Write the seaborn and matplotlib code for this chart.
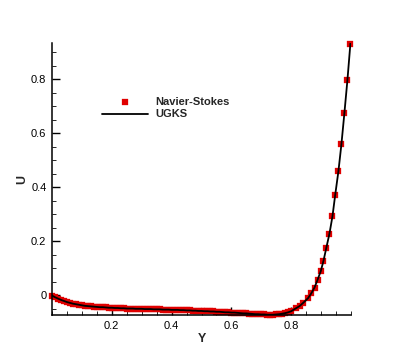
import matplotlib
matplotlib.use("Agg")
import matplotlib.pyplot as plt
import seaborn as sns
import pandas as pd
from matplotlib.ticker import MultipleLocator

# Navier-Stokes solution
ns_y = [0.00, 0.01, 0.02, 0.03, 0.04, 0.05, 0.06, 0.07, 0.08, 0.09,
        0.10, 0.11, 0.12, 0.13, 0.14, 0.15, 0.16, 0.17, 0.18, 0.19,
        0.20, 0.21, 0.22, 0.23, 0.24, 0.25, 0.26, 0.27, 0.28, 0.29,
        0.30, 0.31, 0.32, 0.33, 0.34, 0.35, 0.36, 0.37, 0.38, 0.39,
        0.40, 0.41, 0.42, 0.43, 0.44, 0.45, 0.46, 0.47, 0.48, 0.49,
        0.50, 0.51, 0.52, 0.53, 0.54, 0.55, 0.56, 0.57, 0.58, 0.59,
        0.60, 0.61, 0.62, 0.63, 0.64, 0.65, 0.66, 0.67, 0.68, 0.69,
        0.70, 0.71, 0.72, 0.73, 0.74, 0.75, 0.76, 0.77, 0.78, 0.79,
        0.80, 0.816, 0.828, 0.841, 0.856, 0.867, 0.878, 0.888, 0.899,
        0.908, 0.917, 0.928, 0.938, 0.947, 0.958, 0.968, 0.978, 0.988, 0.998]
ns_u = [-0.002, -0.008, -0.013, -0.018, -0.022, -0.026, -0.029, -0.032, -0.034, -0.036,
        -0.038, -0.040, -0.041, -0.042, -0.043, -0.044, -0.045, -0.045, -0.046, -0.047,
        -0.047, -0.048, -0.048, -0.049, -0.049, -0.050, -0.050, -0.050, -0.051, -0.051,
        -0.051, -0.052, -0.052, -0.052, -0.053, -0.053, -0.053, -0.054, -0.054, -0.054,
        -0.055, -0.055, -0.055, -0.056, -0.056, -0.057, -0.057, -0.058, -0.058, -0.059,
        -0.059, -0.060, -0.060, -0.061, -0.061, -0.062, -0.062, -0.063, -0.064, -0.064,
        -0.065, -0.065, -0.066, -0.067, -0.068, -0.068, -0.069, -0.070, -0.071, -0.071,
        -0.072, -0.072, -0.073, -0.073, -0.073, -0.072, -0.071, -0.069, -0.067, -0.064,
        -0.060, -0.049, -0.041, -0.028, -0.012, 0.006, 0.028, 0.056, 0.089,
        0.127, 0.173, 0.228, 0.292, 0.370, 0.460, 0.560, 0.676, 0.797, 0.933]

# UGKS solution
ugks_y = list(ns_y)
ugks_u = list(ns_u)

ns = pd.DataFrame({"Y": ns_y, "U": ns_u})
ug = pd.DataFrame({"Y": ugks_y, "U": ugks_u})

sns.set_style("white")
plt.rcParams["font.family"] = ["Liberation Sans", "DejaVu Sans"]

fig = plt.figure(figsize=(3.99, 3.55), dpi=100)
ax = fig.add_axes([52/399, 1 - 315/355, (351 - 52)/399, (315 - 43)/355])

sns.scatterplot(data=ns, x="Y", y="U", marker="s", s=22, color="#e00000",
                edgecolor="#e00000", linewidth=0.2, ax=ax, clip_on=False,
                label="Navier-Stokes", zorder=2)
sns.lineplot(data=ug, x="Y", y="U", color="black", linewidth=1.3, ax=ax,
             label="UGKS", sort=False, zorder=3)

ax.set_xlim(0, 1.0)
ax.set_ylim(-0.074, 0.935)

ax.xaxis.set_minor_locator(MultipleLocator(0.05))
ax.yaxis.set_minor_locator(MultipleLocator(0.05))
ax.set_xticks([0.2, 0.4, 0.6, 0.8])
ax.set_yticks([0, 0.2, 0.4, 0.6, 0.8])
ax.set_xticklabels(["0.2", "0.4", "0.6", "0.8"])
ax.set_yticklabels(["0", "0.2", "0.4", "0.6", "0.8"])

ax.tick_params(axis="both", which="major", direction="in", length=6, width=1,
               labelsize=8, pad=4, bottom=True, left=True, colors="black")
ax.tick_params(axis="both", which="minor", direction="in", length=3, width=0.7,
               bottom=True, left=True)

for side in ["top", "right"]:
    ax.spines[side].set_visible(False)
for side in ["left", "bottom"]:
    ax.spines[side].set_color("black")
    ax.spines[side].set_linewidth(1.1)

ax.set_xlabel("Y", fontsize=9, fontweight="bold", labelpad=2)
ax.set_ylabel("U", fontsize=9, fontweight="bold", labelpad=2)

leg = ax.legend(loc="center left", bbox_to_anchor=(96/399, 1 - 108/355),
                bbox_transform=fig.transFigure, frameon=False, fontsize=8,
                handlelength=4.2, handletextpad=0.6, labelspacing=0.25,
                borderpad=0.0)
for t in leg.get_texts():
    t.set_fontweight("bold")

fig.savefig("out.png", dpi=100)
